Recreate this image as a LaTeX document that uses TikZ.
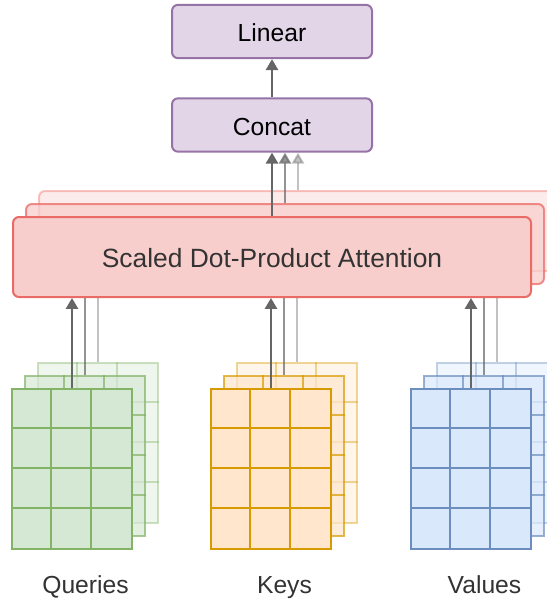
\documentclass[tikz,border=0pt]{standalone}
\usepackage{fontspec}
\setmainfont{Liberation Sans}
\usetikzlibrary{arrows.meta,calc}
\definecolor{purfill}{HTML}{E1D5E7}
\definecolor{purline}{HTML}{9673A6}
\definecolor{redfill}{HTML}{F8CECC}
\definecolor{redline}{HTML}{EA6B66}
\definecolor{grnfill}{HTML}{D5E8D4}
\definecolor{grnline}{HTML}{82B366}
\definecolor{orgfill}{HTML}{FFE6CC}
\definecolor{orgline}{HTML}{D79B00}
\definecolor{blufill}{HTML}{DAE8FC}
\definecolor{bluline}{HTML}{6C8EBF}
\definecolor{arrcol}{HTML}{666666}
\definecolor{txtcol}{HTML}{333333}
\tikzset{
  txt/.style={font=\fontsize{18.5}{22}\selectfont},
  topbox/.style={draw=purline, fill=purfill, line width=1.5pt, rounded corners=4.5pt,
    minimum width=150pt, minimum height=40pt, inner sep=0pt, txt, text=black,
    text height=15.5pt, text depth=0pt},
  attbox/.style={draw=redline, fill=redfill, line width=1.5pt, rounded corners=4.5pt,
    minimum width=388.5pt, minimum height=60pt, inner sep=0pt,
    font=\fontsize{19.8}{23}\selectfont, text=txtcol, text height=15pt, text depth=0pt},
  gridbox/.style={line width=1.5pt, minimum width=90pt, minimum height=120pt, inner sep=0pt},
  arr/.style={draw=arrcol, line width=1.5pt, -{Triangle[length=8.2pt,width=9.2pt]}},
  lab/.style={txt, text=txtcol, anchor=base, inner sep=0pt},
}
% grid: name, x, y, fill, line, opacity
\newcommand{\mygrid}[6]{%
  \node[gridbox, fill=#4, draw=#5, fill opacity=#6, draw opacity=#6] (#1) at (#2,#3) {};
  \foreach \i in {1,2}{\draw[#5, line width=1.5pt, draw opacity=#6]
    ($(#1.north west)+(\i*40,0)$) -- ($(#1.south west)+(\i*40,0)$);}
  \foreach \j in {1,2,3}{\draw[#5, line width=1.5pt, draw opacity=#6]
    ($(#1.north west)+(0,\j*40)$) -- ($(#1.north east)+(0,\j*40)$);}
}
\begin{document}
\begin{tikzpicture}[x=0.75pt,y=-0.75pt]
\useasboundingbox (0,0) rectangle (547,601);
\clip (0,0) rectangle (547,601);
% top boxes
\node[topbox] (linear) at (272,31.5) {Linear};
\node[topbox] (concat) at (272,125) {Concat};
% back layer
\node[attbox, fill opacity=0.4, draw opacity=0.4, text opacity=0] (attb) at (298,231) {};
\draw[arr, opacity=0.4] (attb.north) -- (attb.north |- concat.south);
\mygrid{qb}{98}{443}{grnfill}{grnline}{0.4}
\mygrid{kb}{297}{443}{orgfill}{orgline}{0.4}
\mygrid{vb}{497}{443}{blufill}{bluline}{0.4}
\draw[arr, opacity=0.4] (qb.north) -- (qb.north |- attb.south);
\draw[arr, opacity=0.4] (kb.north) -- (kb.north |- attb.south);
\draw[arr, opacity=0.4] (vb.north) -- (vb.north |- attb.south);
% middle layer
\node[attbox, fill opacity=0.75, draw opacity=0.75, text opacity=0] (attm) at (285,244) {};
\draw[arr, opacity=0.7] (attm.north) -- (attm.north |- concat.south);
\mygrid{qm}{85}{456}{grnfill}{grnline}{0.7}
\mygrid{km}{284}{456}{orgfill}{orgline}{0.7}
\mygrid{vm}{484}{456}{blufill}{bluline}{0.7}
\draw[arr, opacity=0.7] (qm.north) -- (qm.north |- attm.south);
\draw[arr, opacity=0.7] (km.north) -- (km.north |- attm.south);
\draw[arr, opacity=0.7] (vm.north) -- (vm.north |- attm.south);
% front layer
\node[attbox] (att) at (272,257) {Scaled Dot-Product Attention};
\mygrid{qf}{72}{469}{grnfill}{grnline}{1}
\mygrid{kf}{271}{469}{orgfill}{orgline}{1}
\mygrid{vf}{471}{469}{blufill}{bluline}{1}
\draw[arr] (qf.north) -- (qf.north |- att.south);
\draw[arr] (kf.north) -- (kf.north |- att.south);
\draw[arr] (vf.north) -- (vf.north |- att.south);
\draw[arr] (att.north) -- (concat.south);
\draw[arr] (concat.north) -- (linear.south);
% labels
\node[lab] (lq) at (85.5,593) {Queries};
\node[lab] (lk) at (284.5,593) {Keys};
\node[lab] (lv) at (484.5,593) {Values};
\end{tikzpicture}
\end{document}
